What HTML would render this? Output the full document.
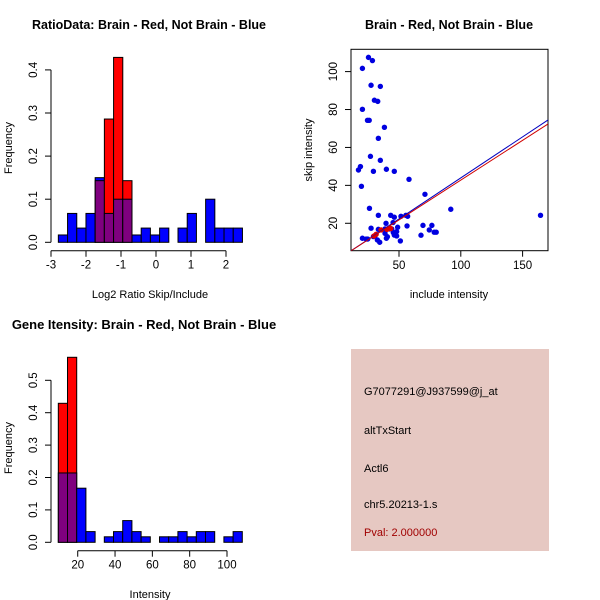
<!DOCTYPE html>
<html><head><meta charset="utf-8"><style>
body{margin:0;background:#fff}
svg{display:block;font-family:"Liberation Sans",Arial,sans-serif}
</style></head><body>
<svg id="s" width="600" height="600" viewBox="0 0 600 600">
<rect width="600" height="600" fill="#fff"/>
<text x="149" y="29" text-anchor="middle" font-weight="bold" font-size="12.5">RatioData: Brain - Red, Not Brain - Blue</text>
<text x="449" y="29" text-anchor="middle" font-weight="bold" font-size="12.5">Brain - Red, Not Brain - Blue</text>
<text x="144" y="329" text-anchor="middle" font-weight="bold" font-size="13">Gene Itensity: Brain - Red, Not Brain - Blue</text>
<text x="150" y="298" text-anchor="middle" font-size="11">Log2 Ratio Skip/Include</text>
<text x="449" y="298" text-anchor="middle" font-size="11">include intensity</text>
<text x="150" y="598" text-anchor="middle" font-size="11">Intensity</text>
<text transform="translate(12,148) rotate(-90)" text-anchor="middle" font-size="11">Frequency</text>
<text transform="translate(312,150) rotate(-90)" text-anchor="middle" font-size="11">skip intensity</text>
<text transform="translate(12,448) rotate(-90)" text-anchor="middle" font-size="11">Frequency</text>
<g id="tl"></g>
<g id="tr"></g>
<g id="bl"></g>
<g>
<rect x="351" y="349" width="198" height="202" fill="#e6c8c2"/>
<text x="364" y="395" font-size="11">G7077291@J937599@j_at</text>
<text x="364" y="434" font-size="11">altTxStart</text>
<text x="364" y="472" font-size="11">Actl6</text>
<text x="364" y="508" font-size="11">chr5.20213-1.s</text>
<text x="364" y="536" font-size="11" fill="#a00000">Pval: 2.000000</text>
</g>
</svg>
<script>
const NS="http://www.w3.org/2000/svg";
// Ratio histogram data
const ratioBinStart=-2.79, ratioBinWidth=0.263;
const ratioBlue=[0.017,0.067,0.033,0.067,0.15,0.067,0.10,0.10,0.017,0.033,0.017,0.033,0,0.033,0.067,0,0.10,0.033,0.033,0.033];
const ratioRed=[0,0,0,0,0.143,0.286,0.429,0.143,0,0,0,0,0,0,0,0,0,0,0,0];
const ratioXTicks=[-3,-2,-1,0,1,2];
const ratioYTicks=[0,0.1,0.2,0.3,0.4];
// Intensity histogram data
const intBinStart=9.6, intBinWidth=4.93;
const intBlue=[0.214,0.214,0.167,0.033,0,0.017,0.033,0.067,0.033,0.017,0,0.017,0.017,0.033,0.017,0.033,0.033,0,0.017,0.033];
const intRed=[0.429,0.571,0,0,0,0,0,0,0,0,0,0,0,0,0,0,0,0,0,0];
const intXTicks=[20,40,60,80,100];
const intYTicks=[0,0.1,0.2,0.3,0.4,0.5];
// Scatter data
const blueX=[25.3,28.5,20.4,27.4,34.9,30.1,32.8,20.4,24.5,25.9,38.2,33.3,26.9,34.9,18.8,17.2,39.8,29.3,46.2,58.1,19.6,71,91.9,26.1,164.5,33.3,43.3,46.2,51.6,55.6,57,39.5,45.2,27.4,33.3,38.7,42.2,44.1,48.9,56.5,69.4,76.6,74.5,78.5,80.1,67.8,20.4,23.4,24.7,38.7,40.6,39.8,32.5,34.4,45.4,48.1,48.1,46.2,51.1,30.6,29.3];
const blueY=[107.5,105.8,101.7,92.8,92.2,84.9,84.3,80.1,74.3,74.3,70.6,64.8,55.3,53.2,49.9,48.1,48.5,47.4,47.4,43.2,39.5,35.3,27.4,27.9,24.2,24.2,24.2,23.2,23.7,24.2,23.7,20,20.4,17.4,16.8,17,17,17,17.9,18.6,18.9,18.9,16.5,15.3,15.3,13.7,12.1,11.7,11.7,14.7,12.9,12.1,11.2,10,15.1,13.3,15.6,13.8,10.7,13.5,13];
const redX=[29.8,31.5,35.5,40.3,43.3];
const redY=[13.3,14.2,16.5,16.8,17.2];
const fitBlue=[[11.2,5.5],[170.6,74.5]];
const fitRed=[[11.2,5.5],[170.6,72.4]];
const scXTicks=[50,100,150];
const scYTicks=[20,40,60,80,100];

function el(tag,attrs,parent){const e=document.createElementNS(NS,tag);for(const k in attrs)e.setAttribute(k,attrs[k]);parent.appendChild(e);return e;}

function hist(g,start,w,blue,red,xs,ys,xTicks,yTicks,xAxisFrom,xAxisTo,baseY){
  for(let i=0;i<blue.length;i++){
    const x0=xs(start+i*w),x1=xs(start+(i+1)*w);
    const b=blue[i],r=red[i],m=Math.min(b,r),M=Math.max(b,r);
    if(M<=0) continue;
    const topColor=b>=r?"#0000ff":"#ff0000";
    const t=el("rect",{x:x0,y:ys(M),width:x1-x0,height:ys(0)-ys(M),fill:topColor,stroke:"#000","stroke-width":1},g);
    
    
    if(m>0){
      const p=el("rect",{x:x0,y:ys(m),width:x1-x0,height:ys(0)-ys(m),fill:"#7f007f",stroke:"#000","stroke-width":1},g);
      
      
    }
  }
  const ax=el("g",{stroke:"#000","stroke-width":1},g);
  
  
  el("line",{x1:xs(xAxisFrom),x2:xs(xAxisTo),y1:baseY,y2:baseY},ax);
  xTicks.forEach(v=>{el("line",{x1:xs(v),x2:xs(v),y1:baseY,y2:baseY+6},ax);
    const t=el("text",{x:xs(v),y:baseY+18,"text-anchor":"middle","font-size":11.5,stroke:"none"},g);t.textContent=v;
    
    });
  const ay=el("g",{stroke:"#000","stroke-width":1},g);
  
  
  el("line",{x1:51,x2:51,y1:ys(yTicks[0]),y2:ys(yTicks[yTicks.length-1])},ay);
  yTicks.forEach(v=>{el("line",{x1:45,x2:51,y1:ys(v),y2:ys(v)},ay);
    const t=el("text",{transform:`translate(37,${ys(v)}) rotate(-90)`,"text-anchor":"middle","font-size":11.5},g);t.textContent=v.toFixed(1);
    
    });
}
// top-left
{const xs=v=>51+(v+3)*35, ys=v=>242.3-v*431;
 hist(document.getElementById('tl'),ratioBinStart,ratioBinWidth,ratioBlue,ratioRed,xs,ys,ratioXTicks,ratioYTicks,-3,2,250.7);}
// bottom-left
{const xs=v=>40.4+v*1.866, ys=v=>542.3-v*324;
 hist(document.getElementById('bl'),intBinStart,intBinWidth,intBlue,intRed,xs,ys,intXTicks,intYTicks,20,100,550.7);}
// scatter
{const g=document.getElementById('tr');
 const xs=v=>337.2+v*1.236, ys=v=>261.2-v*1.896;
 const box=el("rect",{x:351,y:49.3,width:197,height:201.4,fill:"none",stroke:"#000"},g);
 
 
 blueX.forEach((x,i)=>{const c=el("circle",{cx:xs(x),cy:ys(blueY[i]),r:2.7,fill:"#0000e0"},g);
   
   });
 redX.forEach((x,i)=>{const c=el("circle",{cx:xs(x),cy:ys(redY[i]),r:2.7,fill:"#e00000"},g);
   
   });
 const cp=el("clipPath",{id:"cp"},g);el("rect",{x:351,y:49.3,width:197,height:201.4},cp);
 const lb=el("line",{x1:xs(fitBlue[0][0]),y1:ys(fitBlue[0][1]),x2:xs(fitBlue[1][0]),y2:ys(fitBlue[1][1]),stroke:"#0000c0","clip-path":"url(#cp)"},g);
 
 
 const lr=el("line",{x1:xs(fitRed[0][0]),y1:ys(fitRed[0][1]),x2:xs(fitRed[1][0]),y2:ys(fitRed[1][1]),stroke:"#d00000","clip-path":"url(#cp)"},g);
 
 
 scXTicks.forEach(v=>{el("line",{x1:xs(v),x2:xs(v),y1:250.7,y2:256.7,stroke:"#000"},g);
   const t=el("text",{x:xs(v),y:269,"text-anchor":"middle","font-size":11.5},g);t.textContent=v;
   
   });
 scYTicks.forEach(v=>{el("line",{x1:345,x2:351,y1:ys(v),y2:ys(v),stroke:"#000"},g);
   const t=el("text",{transform:`translate(337,${ys(v)}) rotate(-90)`,"text-anchor":"middle","font-size":11.5},g);t.textContent=v;
   
   });
}
</script>
</body></html>
